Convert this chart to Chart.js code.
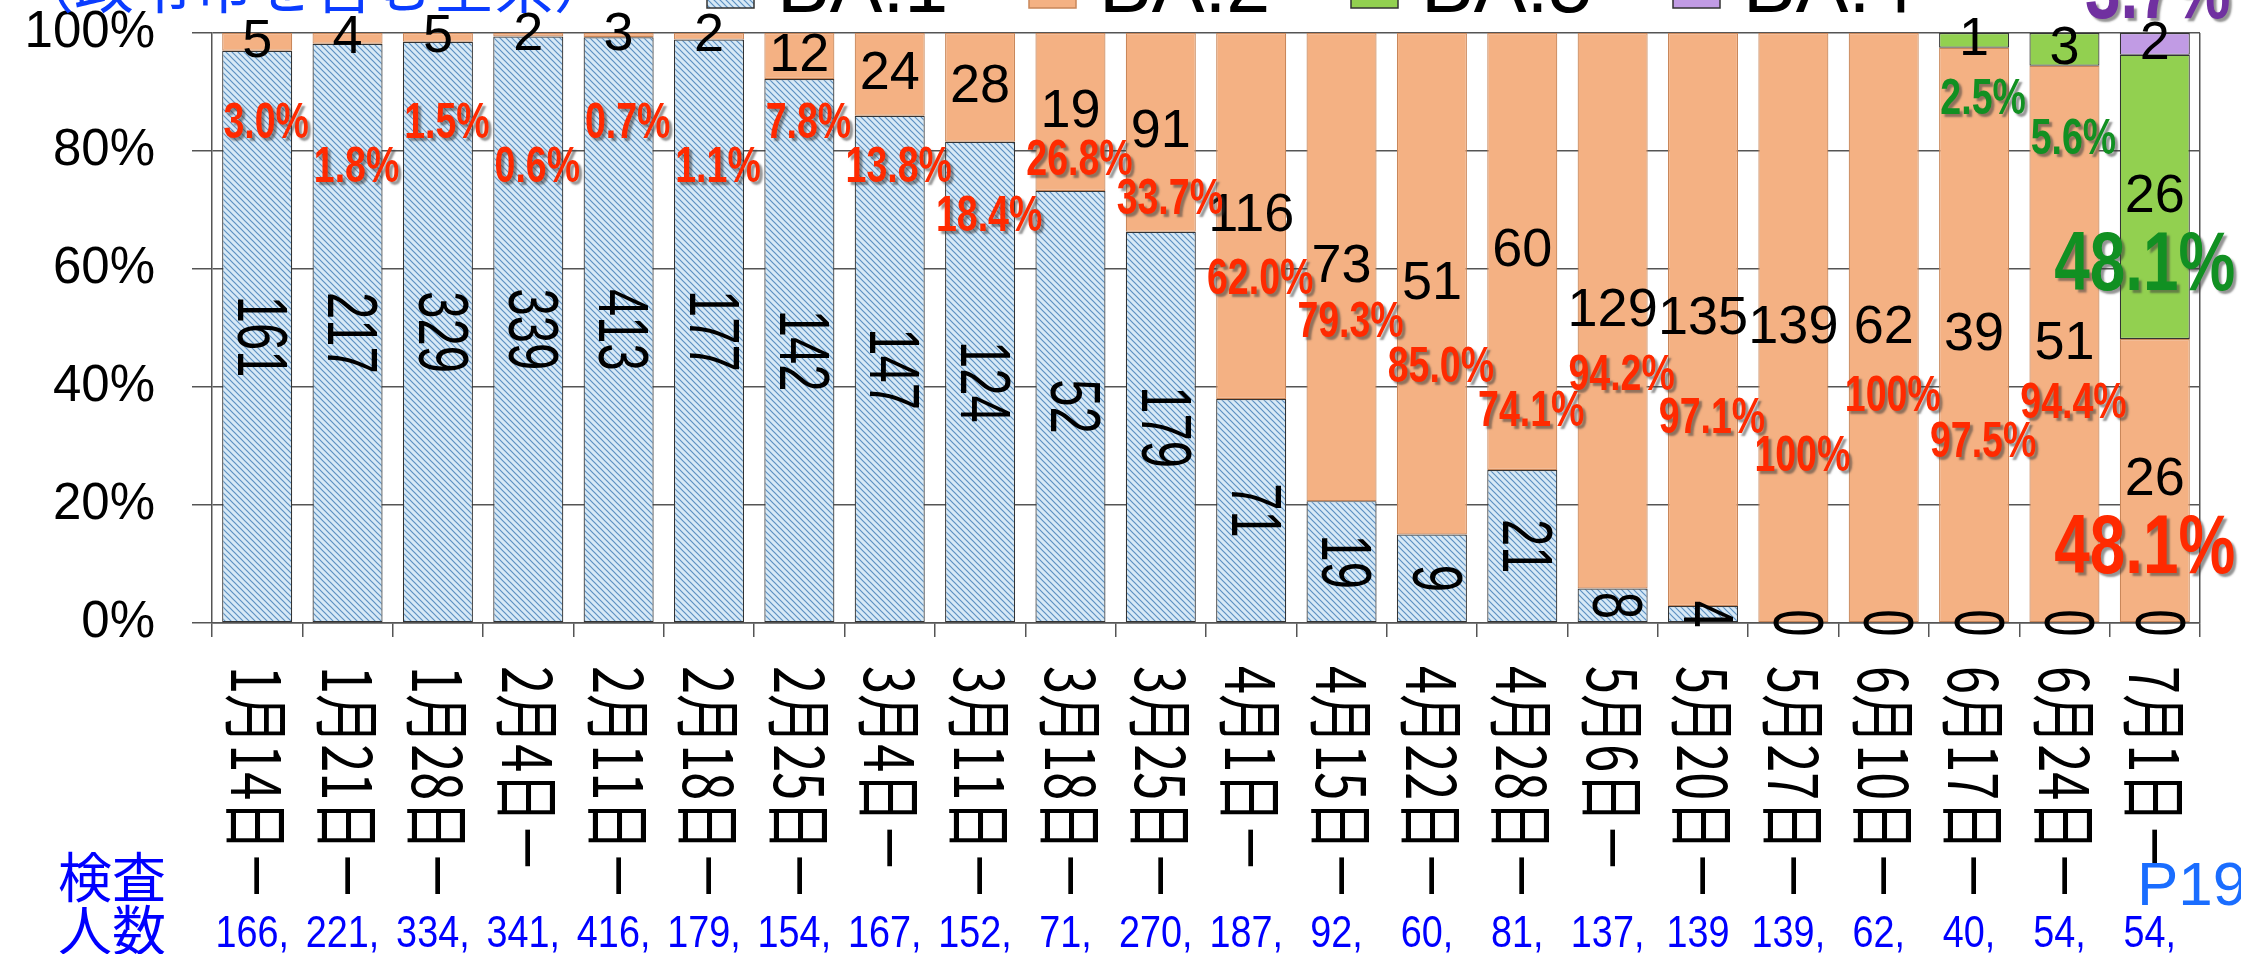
<!DOCTYPE html>
<html>
<head>
<meta charset="utf-8">
<script src="https://cdn.jsdelivr.net/npm/chart.js@4.4.1/dist/chart.umd.min.js"></script>
<style>
  html, body { margin: 0; padding: 0; background: #fff; }
  #wrap { width: 2241px; height: 954px; overflow: hidden; }
</style>
</head>
<body>
<div id="wrap"><canvas id="chart" width="2241" height="954"></canvas></div>
<script>
// 週ごとの検査数（変異株別）
const dates = ['1月14日－', '1月21日－', '1月28日－', '2月4日－', '2月11日－', '2月18日－', '2月25日－',
  '3月4日－', '3月11日－', '3月18日－', '3月25日－', '4月1日－', '4月15日－', '4月22日－', '4月28日－',
  '5月6日－', '5月20日－', '5月27日－', '6月10日－', '6月17日－', '6月24日－', '7月1日－']

const ba1 = [161, 217, 329, 339, 413, 177, 142, 147, 124, 52, 179, 71, 19, 9, 21, 8, 4, 0, 0, 0, 0, 0]
const ba2 = [5, 4, 5, 2, 3, 2, 12, 24, 28, 19, 91, 116, 73, 51, 60, 129, 135, 139, 62, 39, 51, 26]
const ba5 = [null, null, null, null, null, null, null, null, null, null, null, null, null, null, null,
  null, null, null, null, 1, 3, 26]
const ba4 = [null, null, null, null, null, null, null, null, null, null, null, null, null, null, null,
  null, null, null, null, null, null, 2]

// 検査人数（表の下の行、原図どおり）
const testRow = ['166,', '221,', '334,', '341,', '416,', '179,', '154,', '167,', '152,', '71,', '270,',
  '187,', '92,', '60,', '81,', '137,', '139', '139,', '62,', '40,', '54,', '54,']

// 割合の注記と、その高さ（%目盛り上の位置）
const ba2Share = ['3.0%', '1.8%', '1.5%', '0.6%', '0.7%', '1.1%', '7.8%', '13.8%', '18.4%', '26.8%', '33.7%',
  '62.0%', '79.3%', '85.0%', '74.1%', '94.2%', '97.1%', '100%', '100%', '97.5%', '94.4%', '48.1%']
const ba2ShareAt = [84.6, 77.1, 84.6, 77.1, 84.6, 77.1, 84.6, 77.1, 68.8, 78.3, 71.7,
  58.1, 50.8, 43.1, 35.8, 41.9, 34.6, 28.1, 38.3, 30.5, 37.1, 12.4]
const ba5Share = { 19: '2.5%', 20: '5.6%', 21: '48.1%' }
const ba5ShareAt = { 19: 88.6, 20: 81.9, 21: 60.3 }
const ba4Share = { 21: '3.7%' }
const ba4ShareAt = { 21: 106.4 }

const yTicks = [0, 20, 40, 60, 80, 100]

const totals = ba1.map((v, i) => v + ba2[i] + (ba5[i] || 0) + (ba4[i] || 0))
const pct = arr => arr.map((v, i) => v === null ? null : v / totals[i] * 100)

const canvas = document.getElementById('chart')
const ctx0 = canvas.getContext('2d')

function hatch() {
  const c = document.createElement('canvas')
  c.width = 6; c.height = 6
  const g = c.getContext('2d')
  g.fillStyle = '#d7e9f6'
  g.fillRect(0, 0, 6, 6)
  g.strokeStyle = '#5d90c2'
  g.lineWidth = 1.2
  g.beginPath()
  g.moveTo(-1, -1); g.lineTo(7, 7)
  g.moveTo(-1, 5); g.lineTo(1, 7)
  g.moveTo(5, -1); g.lineTo(7, 1)
  g.stroke()
  return ctx0.createPattern(c, 'repeat')
}
const ba1Fill = hatch()

const SANS = '"Liberation Sans", Arial, sans-serif'
const CJK = '"Noto Sans CJK JP", sans-serif'

function text(ctx, str, x, y, o) {
  ctx.save()
  ctx.translate(x, y)
  if (o.rotate) ctx.rotate(o.rotate)
  ctx.scale(o.sx || 1, 1)
  ctx.font = o.font
  ctx.fillStyle = o.color || '#000'
  ctx.textAlign = o.align || 'center'
  ctx.textBaseline = o.baseline || 'middle'
  if (o.shadow) {
    ctx.shadowColor = 'rgba(60,60,60,0.55)'
    ctx.shadowOffsetX = 3
    ctx.shadowOffsetY = 3
    ctx.shadowBlur = 2
  }
  ctx.fillText(str, 0, 0)
  ctx.restore()
}

const smallPct = 'bold 50px ' + SANS
const bigPct = 'bold 84px ' + SANS

const labelsPlugin = {
  id: 'labels',
  afterDatasetsDraw(chart) {
    const ctx = chart.ctx
    const y = chart.scales.y
    chart.data.datasets.forEach((ds, di) => {
      const meta = chart.getDatasetMeta(di)
      ds.counts.forEach((n, i) => {
        if (n === null) return
        const bar = meta.data[i]
        const cy = (bar.y + bar.base) / 2
        if (di === 0) {
          text(ctx, String(n), bar.x, cy, { rotate: Math.PI / 2, sx: 0.7, font: '70px ' + SANS })
        } else {
          text(ctx, String(n), bar.x, cy, { font: '54px ' + SANS })
        }
      })
    })
    const m = chart.getDatasetMeta(1)
    ba2Share.forEach((s, i) => {
      const big = i === 21
      text(ctx, s, m.data[i].x + (big ? -10 : 9), y.getPixelForValue(ba2ShareAt[i]),
        { font: big ? bigPct : smallPct, sx: big ? 0.76 : 0.75, color: '#ff2a00', shadow: true })
    })
    Object.keys(ba5Share).forEach(k => {
      const big = k === '21'
      text(ctx, ba5Share[k], m.data[k].x + (big ? -10 : 9), y.getPixelForValue(ba5ShareAt[k]),
        { font: big ? bigPct : smallPct, sx: big ? 0.76 : 0.75, color: '#119022', shadow: true })
    })
    Object.keys(ba4Share).forEach(k => {
      text(ctx, ba4Share[k], m.data[k].x + 3, y.getPixelForValue(ba4ShareAt[k]),
        { font: bigPct, sx: 0.76, color: '#7030a0', shadow: true })
    })
  },
  afterDraw(chart) {
    const ctx = chart.ctx
    const x = chart.scales.x
    // 日付ラベル（時計回りに回した縦書き風）、長さは「1月14日－」が約235pxになるよう詰める
    const dateFont = '68px ' + CJK
    ctx.font = dateFont
    const dateSx = 235 / ctx.measureText(dates[0]).width
    dates.forEach((d, i) => {
      text(ctx, d, x.getPixelForValue(i), 666,
        { rotate: Math.PI / 2, sx: dateSx, font: dateFont, align: 'left' })
    })
    testRow.forEach((s, i) => {
      text(ctx, s, x.getPixelForValue(i) - 5, 947,
        { sx: 0.84, font: '45px ' + SANS, color: '#0000ff', baseline: 'alphabetic' })
    })
    text(ctx, '検査', 58, 898, { font: '54px ' + CJK, color: '#0000ff', align: 'left', baseline: 'alphabetic' })
    text(ctx, '人数', 58, 951, { font: '54px ' + CJK, color: '#0000ff', align: 'left', baseline: 'alphabetic' })
    text(ctx, 'P19', 2137, 905, { font: '62px ' + SANS, color: '#1a6dff', align: 'left', baseline: 'alphabetic' })

    // 見出しと凡例（上端で切れている）
    text(ctx, '（政令市を含む全県）', 14, 8, { font: '60px ' + CJK, color: '#0a3cff', align: 'left', baseline: 'alphabetic' })
    const keyX = [707, 1029, 1351, 1673]
    chart.data.datasets.forEach((ds, i) => {
      ctx.save()
      ctx.fillStyle = ds.backgroundColor
      ctx.fillRect(keyX[i], -39, 47, 47)
      ctx.strokeStyle = ds.borderColor
      ctx.lineWidth = 1.5
      ctx.strokeRect(keyX[i], -39, 47, 47)
      ctx.restore()
      text(ctx, ds.label, keyX[i] + 70, 12, { font: '79px ' + SANS, align: 'left', baseline: 'alphabetic' })
    })
  }
}

const gridColor = '#555'

new Chart(canvas, {
  type: 'bar',
  data: {
    labels: dates,
    datasets: [
      { label: 'BA.1', data: pct(ba1), counts: ba1, backgroundColor: ba1Fill, borderColor: '#333' },
      { label: 'BA.2', data: pct(ba2), counts: ba2, backgroundColor: '#f4b183', borderColor: '#c9875a' },
      { label: 'BA.5', data: pct(ba5), counts: ba5, backgroundColor: '#92d050', borderColor: '#333' },
      { label: 'BA.4', data: pct(ba4), counts: ba4, backgroundColor: '#c19be4', borderColor: '#333' }
    ]
  },
  options: {
    responsive: false,
    animation: false,
    layout: { padding: { top: 33, right: 41, left: 0, bottom: 0 } },
    datasets: {
      bar: { barPercentage: 0.775, categoryPercentage: 1, borderSkipped: false, borderWidth: 1.2 }
    },
    plugins: {
      legend: { display: false },
      tooltip: { enabled: false }
    },
    scales: {
      x: {
        stacked: true,
        ticks: { display: false },
        grid: {
          offset: true,
          drawOnChartArea: true,
          color: c => c.type === 'tick' ? 'rgba(0,0,0,0)' : gridColor,
          lineWidth: 1.5,
          tickLength: 14,
          tickColor: gridColor,
          tickWidth: 1.5
        },
        border: { display: true, color: gridColor, width: 1.5 },
        afterFit: s => { s.height = 331 }
      },
      y: {
        stacked: true,
        min: 0,
        max: 100,
        ticks: {
          stepSize: 10,
          padding: 37,
          color: '#000',
          font: { family: 'Liberation Sans', size: 51 },
          callback: v => yTicks.includes(v) ? v + '%' : ''
        },
        grid: {
          color: c => c.tick && yTicks.includes(c.tick.value) ? gridColor : 'rgba(0,0,0,0)',
          lineWidth: 1.5,
          tickLength: 20,
          tickColor: gridColor,
          tickWidth: 1.5
        },
        border: { display: true, color: gridColor, width: 1.5 },
        afterFit: s => {
          s.width = 212
          s.paddingTop = 0
          s.paddingBottom = 0
        }
      }
    }
  },
  plugins: [labelsPlugin]
})
</script>
</body>
</html>
